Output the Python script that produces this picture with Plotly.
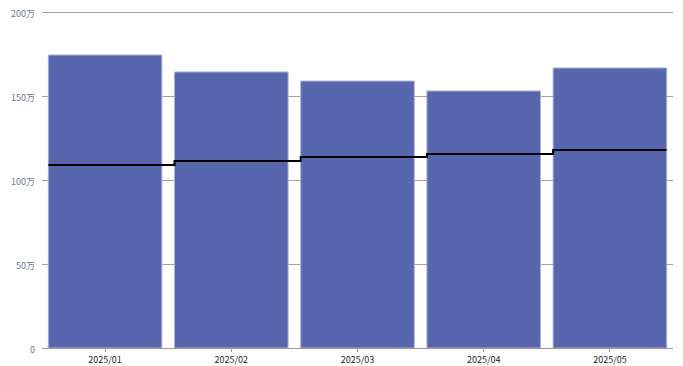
import plotly.graph_objects as go

categories = ["2025/01", "2025/02", "2025/03", "2025/04", "2025/05"]
bar_values = [1744000, 1643000, 1589000, 1530000, 1667000]
line_values = [1089000, 1113000, 1137000, 1155000, 1179000]
y_tick_vals = [0, 500000, 1000000, 1500000, 2000000]
y_tick_text = ["0", "50万", "100万", "150万", "200万"]

bar_width = 0.9
idx = list(range(len(categories)))

# step line: each value spans from its bar's left edge to next bar's left edge
step_x = [i - bar_width / 2 for i in idx] + [idx[-1] + bar_width / 2]
step_y = line_values + [line_values[-1]]

fig = go.Figure()
fig.add_trace(go.Bar(
    x=idx, y=bar_values, width=bar_width,
    marker=dict(color="#5866ad", line=dict(color="#aab2d6", width=1)),
    hoverinfo="skip",
))
fig.add_trace(go.Scatter(
    x=step_x, y=step_y, mode="lines",
    line=dict(color="#000000", width=2, shape="hv"),
    hoverinfo="skip",
))

# page body has an 8px margin, so the figure is shrunk and margins shifted
fig.update_layout(
    width=675, height=358,
    margin=dict(l=34, r=10, t=2, b=18),
    plot_bgcolor="white", paper_bgcolor="white",
    showlegend=False,
    font=dict(family="Noto Sans CJK JP", size=9),
    xaxis=dict(
        range=[-0.5, 4.5], tickvals=idx, ticktext=categories,
        showgrid=False, showline=True, linecolor="#999999", linewidth=1,
        ticks="outside", ticklen=3, tickcolor="#999999",
        tickfont=dict(color="#222222", size=9), zeroline=False,
        automargin=False,
    ),
    yaxis=dict(
        range=[0, 2012000], tickvals=y_tick_vals, ticktext=y_tick_text,
        showgrid=True, gridcolor="#a0a0a0", gridwidth=1,
        ticks="", ticklabelstandoff=6, ticklabeloverflow="allow",
        ticklabelshift=2,
        tickfont=dict(color="#6a7894", size=9), zeroline=False,
        showline=False, automargin=False,
    ),
)

fig.write_html("out.html")
